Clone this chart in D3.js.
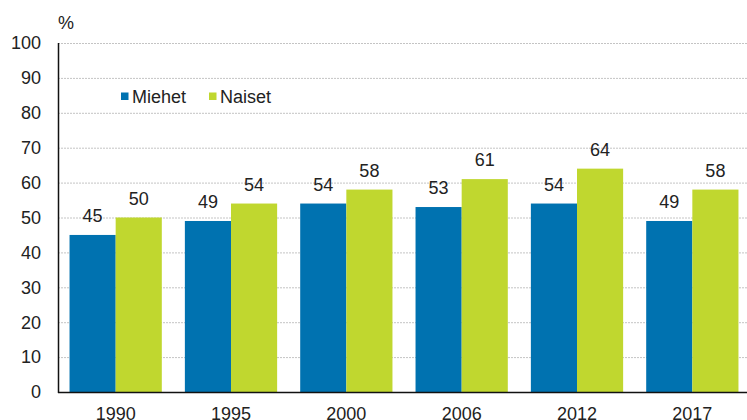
<!DOCTYPE html>
<html>
<head>
<meta charset="utf-8">
<script src="https://cdn.jsdelivr.net/npm/d3@7"></script>
<style>
  body{margin:0;background:#fff;}
  svg{display:block;font-family:"Liberation Sans",Arial,sans-serif;}
</style>
</head>
<body>
<svg id="chart" width="747" height="420"></svg>
<script>
const years=["1990","1995","2000","2006","2012","2017"];
const miehet=[45,49,54,53,54,49];
const naiset=[50,54,58,61,64,58];
const yTicks=[0,10,20,30,40,50,60,70,80,90,100];
const seriesNames=["Miehet","Naiset"];
const colors=["#0072b0","#c0d72f"];

const width=747,height=420;
const mLeft=58,mTop=43,mBottom=392,mRight=750;
const fs=18;
let svg=d3.select("#chart");

const x0=d3.scaleBand().domain(years).range([mLeft,mRight]).paddingInner(0.2).paddingOuter(0.1);
const x1=d3.scaleBand().domain(seriesNames).range([0,x0.bandwidth()]);
const y=d3.scaleLinear().domain([0,100]).range([mBottom,mTop]);

// grid
svg.append("g").selectAll("line").data(yTicks.filter(d=>d>0)).join("line")
  .attr("x1",mLeft).attr("x2",width)
  .attr("y1",d=>y(d)+0.5).attr("y2",d=>y(d)+0.5)
  .attr("stroke","#c4c4c4").attr("stroke-width",1).attr("stroke-dasharray","2,1");

// y labels
svg.append("g").selectAll("text").data(yTicks).join("text")
  .attr("x",41).attr("y",d=>y(d)).attr("dy","0.35em")
  .attr("text-anchor","end").attr("font-size",fs).attr("fill","#222")
  .text(d=>d);
svg.append("text").attr("x",58).attr("y",29).attr("font-size",fs).attr("fill","#222").text("%");

// bars
const rows=years.map((yr,i)=>({year:yr,vals:[miehet[i],naiset[i]]}));
const groups=svg.append("g").selectAll("g").data(rows).join("g")
  .attr("transform",d=>`translate(${x0(d.year)},0)`);
groups.selectAll("rect").data(d=>d.vals.map((v,j)=>({v,s:seriesNames[j],j}))).join("rect")
  .attr("x",d=>x1(d.s)).attr("width",x1.bandwidth())
  .attr("y",d=>y(d.v)).attr("height",d=>mBottom-y(d.v))
  .attr("fill",d=>colors[d.j]);
groups.selectAll("text").data(d=>d.vals.map((v,j)=>({v,s:seriesNames[j]}))).join("text")
  .attr("x",d=>x1(d.s)+x1.bandwidth()/2).attr("y",d=>y(d.v)-13)
  .attr("text-anchor","middle").attr("font-size",fs).attr("fill","#222")
  .text(d=>d.v);

// axes lines
svg.append("line").attr("x1",mLeft+0.5).attr("x2",mLeft+0.5).attr("y1",mTop).attr("y2",mBottom+1)
  .attr("stroke","#111").attr("stroke-width",1.5);
svg.append("line").attr("x1",mLeft).attr("x2",width).attr("y1",mBottom+0.5).attr("y2",mBottom+0.5)
  .attr("stroke","#111").attr("stroke-width",1.5);

// x labels
svg.append("g").selectAll("text").data(years).join("text")
  .attr("x",d=>x0(d)+x0.bandwidth()/2).attr("y",420)
  .attr("text-anchor","middle").attr("font-size",fs).attr("fill","#222")
  .text(d=>d);

// legend
const legendX=[121,209];
const leg=svg.append("g").selectAll("g").data(seriesNames).join("g")
  .attr("transform",(d,i)=>`translate(${legendX[i]},96)`);
leg.append("rect").attr("x",0).attr("y",-3.5).attr("width",7.5).attr("height",7.5).attr("fill",(d,i)=>colors[i]);
leg.append("text").attr("x",11).attr("y",7).attr("font-size",fs).attr("fill","#222").text(d=>d);
</script>
</body>
</html>
